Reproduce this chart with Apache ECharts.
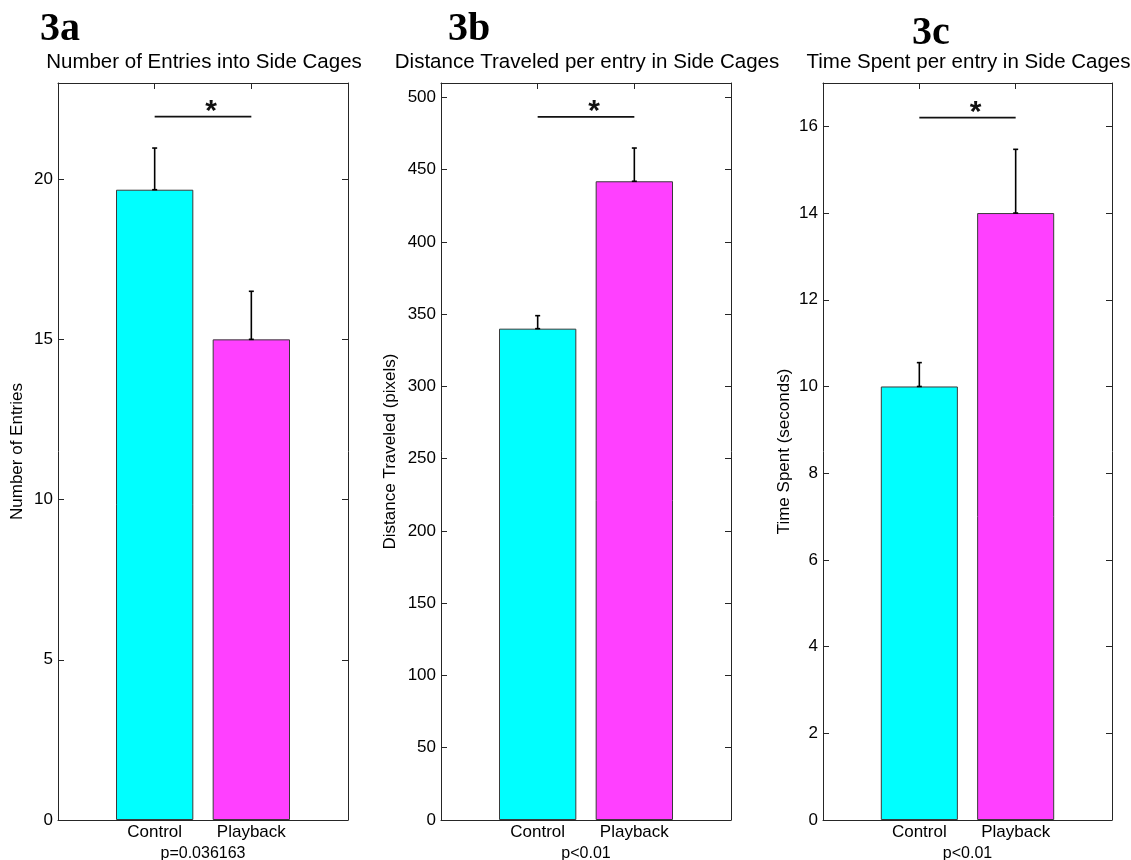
<!DOCTYPE html>
<html>
<head>
<meta charset="utf-8">
<script src="https://cdn.jsdelivr.net/npm/echarts@6/dist/echarts.min.js"></script>
<style>
  html, body { margin: 0; padding: 0; background: #fff; }
  #chart { width: 1131px; height: 860px; }
</style>
</head>
<body>
<div id="chart"></div>
<script>
// Values
const categories = ['Control', 'Playback'];
const barColors = ['#00ffff', '#ff40ff'];

const panelLabels = ['3a', '3b', '3c'];
const panelTitles = [
    'Number of Entries into Side Cages',
    'Distance Traveled per entry in Side Cages',
    'Time Spent per entry in Side Cages',
];
const yNames = ['Number of Entries', 'Distance Traveled (pixels)', 'Time Spent (seconds)'];
const pLabels = ['p=0.036163', 'p<0.01', 'p<0.01'];

const yMax = [23, 510, 17];
const yStep = [5, 50, 2];

const entriesMean = [19.67, 15.0];
const entriesErr = [1.3, 1.5];
const distanceMean = [340, 442];
const distanceErr = [9, 23];
const timeMean = [10.0, 14.0];
const timeErr = [0.55, 1.47];

const sigLevel = [21.95, 486.5, 16.2];

const means = [entriesMean, distanceMean, timeMean];
const errs = [entriesErr, distanceErr, timeErr];

// Layout of the three axes boxes (pixels)
const GRIDS = [
    { left: 58, top: 83, width: 290, height: 737, outerBoundsMode: 'none' },
    { left: 441, top: 83, width: 290, height: 737, outerBoundsMode: 'none' },
    { left: 823, top: 83, width: 289, height: 737, outerBoundsMode: 'none' },
];
const NAME_GAP = [32, 42, 30];
const LABEL_POS = [
    { x: 40, y: 30 },
    { x: 448, y: 30 },
    { x: 912, y: 34 },
];

const FONT = '"Liberation Sans", Arial, sans-serif';
const AXIS_COLOR = '#262626';

const isStep = (v, s) => Math.abs(v / s - Math.round(v / s)) < 1e-6;

const xAxes = [];
const yAxes = [];
const series = [];
const graphics = [];

GRIDS.forEach((g, i) => {
    const boxLine = { show: true, onZero: false, lineStyle: { color: AXIS_COLOR, width: 1 } };
    const tick = { show: true, inside: true, length: 6, lineStyle: { color: AXIS_COLOR } };

    xAxes.push({
        gridIndex: i, type: 'value', position: 'bottom', min: 0, max: 3, interval: 1,
        axisLine: boxLine, axisTick: tick, splitLine: { show: false },
        axisLabel: {
            formatter: v => categories[v - 1] || '',
            color: '#000', fontSize: 17, fontFamily: FONT, margin: 4,
        },
        name: pLabels[i], nameLocation: 'middle', nameGap: 22,
        nameTextStyle: { color: '#000', fontSize: 16, fontFamily: FONT },
    });
    xAxes.push({
        gridIndex: i, type: 'value', position: 'top', min: 0, max: 3, interval: 1,
        axisLine: boxLine, axisTick: tick, splitLine: { show: false },
        axisLabel: { show: false },
    });
    yAxes.push({
        gridIndex: i, type: 'value', position: 'left', min: 0, max: yMax[i], interval: yStep[i],
        axisLine: boxLine, axisTick: tick, splitLine: { show: false },
        axisLabel: {
            formatter: v => (isStep(v, yStep[i]) ? String(v) : ''),
            showMaxLabel: false,
            color: '#000', fontSize: 17, fontFamily: FONT, margin: 5,
        },
        name: yNames[i], nameLocation: 'middle', nameGap: NAME_GAP[i],
        nameTextStyle: { color: '#000', fontSize: 17, fontFamily: FONT },
    });
    yAxes.push({
        gridIndex: i, type: 'value', position: 'right', min: 0, max: yMax[i], interval: yStep[i],
        axisLine: boxLine, axisTick: tick, splitLine: { show: false },
        axisLabel: { show: false },
    });

    const xi = 2 * i;
    const yi = 2 * i;

    series.push({
        type: 'bar', xAxisIndex: xi, yAxisIndex: yi,
        barWidth: g.width / 3 * 0.8,
        itemStyle: { borderColor: '#3a3a3a', borderWidth: 1 },
        data: categories.map((c, j) => ({
            value: [j + 1, means[i][j]],
            itemStyle: { color: barColors[j] },
        })),
        z: 2,
    });

    // upper error bars
    series.push({
        type: 'custom', xAxisIndex: xi, yAxisIndex: yi, z: 3,
        data: categories.map((c, j) => [j + 1, means[i][j], means[i][j] + errs[i][j]]),
        renderItem: (params, api) => {
            const lo = api.coord([api.value(0), api.value(1)]);
            const hi = api.coord([api.value(0), api.value(2)]);
            const st = { stroke: '#000', lineWidth: 1.6 };
            return {
                type: 'group',
                children: [
                    { type: 'line', shape: { x1: lo[0], y1: lo[1], x2: hi[0], y2: hi[1] }, style: st },
                    { type: 'line', shape: { x1: hi[0] - 2.5, y1: hi[1], x2: hi[0] + 2.5, y2: hi[1] }, style: st },
                    { type: 'line', shape: { x1: lo[0] - 2.5, y1: lo[1], x2: lo[0] + 2.5, y2: lo[1] }, style: st },
                ],
            };
        },
    });

    // significance bracket
    series.push({
        type: 'custom', xAxisIndex: xi, yAxisIndex: yi, z: 3,
        data: [[1, 2, sigLevel[i]]],
        renderItem: (params, api) => {
            const a = api.coord([api.value(0), api.value(2)]);
            const b = api.coord([api.value(1), api.value(2)]);
            return {
                type: 'group',
                children: [
                    { type: 'line', shape: { x1: a[0], y1: a[1], x2: b[0], y2: b[1] },
                      style: { stroke: '#111', lineWidth: 1.8 } },
                    { type: 'text', x: (a[0] + b[0]) / 2 + 8, y: a[1] - 5,
                      style: { text: '*', font: 'bold 30px ' + FONT, fill: '#111',
                               align: 'center', verticalAlign: 'middle' } },
                ],
            };
        },
    });

    graphics.push({
        type: 'text', x: LABEL_POS[i].x, y: LABEL_POS[i].y,
        style: { text: panelLabels[i], font: 'bold 40px "Liberation Serif", "Times New Roman", serif',
                 fill: '#000', align: 'left', verticalAlign: 'middle' },
    });
    graphics.push({
        type: 'text', x: g.left + g.width / 2 + 1, y: 62,
        style: { text: panelTitles[i], font: '20.5px ' + FONT, fill: '#000',
                 align: 'center', verticalAlign: 'middle' },
    });
});

const chart = echarts.init(document.getElementById('chart'));
chart.setOption({
    animation: false,
    backgroundColor: '#fff',
    grid: GRIDS,
    xAxis: xAxes,
    yAxis: yAxes,
    series: series,
    graphic: graphics,
});
</script>
</body>
</html>
